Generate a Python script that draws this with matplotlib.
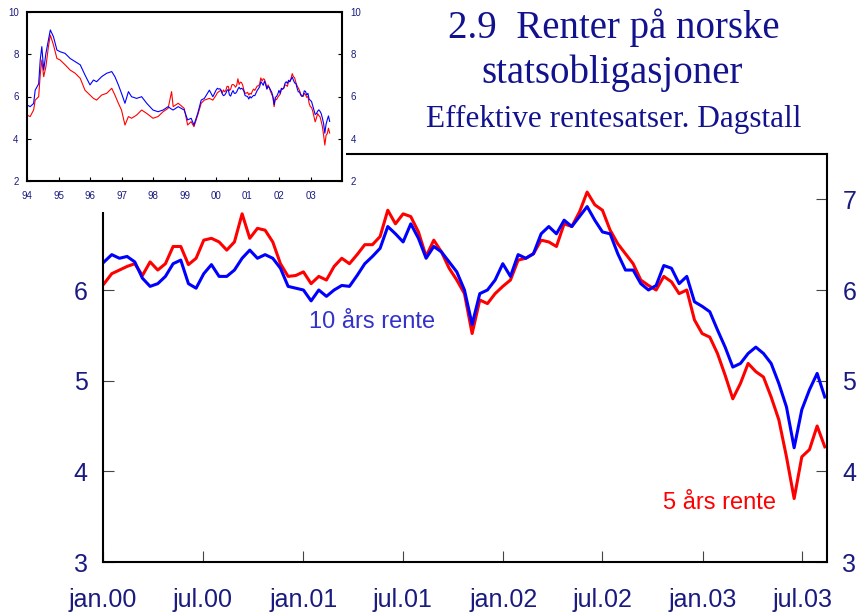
import matplotlib
matplotlib.use("Agg")
import matplotlib.pyplot as plt
from matplotlib.patches import Rectangle
import pandas as pd

plt.rcParams['font.family'] = ['Liberation Sans', 'DejaVu Sans']

# main chart: two-weekly readings, Jan 2000 - Aug 2003
dates = pd.date_range("2000-01-03", periods=95, freq="14D")

rente_10 = [6.31, 6.39, 6.35, 6.37, 6.31, 6.13, 6.04, 6.07, 6.15, 6.29,
            6.33, 6.07, 6.02, 6.18, 6.28, 6.15, 6.15, 6.22, 6.35, 6.44,
            6.35, 6.39, 6.35, 6.24, 6.04, 6.02, 6.00, 5.88, 6.00, 5.93,
            6.00, 6.05, 6.04, 6.16, 6.29, 6.37, 6.46, 6.70, 6.62, 6.53,
            6.73, 6.57, 6.35, 6.48, 6.42, 6.31, 6.20, 6.00, 5.62, 5.96,
            6.00, 6.11, 6.29, 6.15, 6.39, 6.35, 6.40, 6.62, 6.70, 6.62,
            6.77, 6.70, 6.81, 6.92, 6.77, 6.64, 6.62, 6.40, 6.22, 6.22,
            6.07, 6.00, 6.05, 6.27, 6.24, 6.07, 6.15, 5.87, 5.82, 5.76,
            5.56, 5.37, 5.15, 5.19, 5.30, 5.37, 5.30, 5.19, 4.97, 4.71,
            4.26, 4.68, 4.90, 5.08, 4.82]

rente_5 = [6.07, 6.18, 6.22, 6.26, 6.29, 6.16, 6.31, 6.22, 6.29, 6.48,
           6.48, 6.28, 6.35, 6.55, 6.57, 6.53, 6.44, 6.53, 6.84, 6.57,
           6.68, 6.66, 6.53, 6.29, 6.15, 6.16, 6.20, 6.07, 6.15, 6.11,
           6.26, 6.35, 6.29, 6.39, 6.50, 6.50, 6.59, 6.88, 6.73, 6.84,
           6.81, 6.64, 6.37, 6.55, 6.42, 6.24, 6.11, 5.96, 5.52, 5.89,
           5.85, 5.96, 6.04, 6.11, 6.33, 6.35, 6.40, 6.55, 6.53, 6.48,
           6.73, 6.70, 6.86, 7.08, 6.94, 6.88, 6.66, 6.51, 6.40, 6.29,
           6.11, 6.05, 6.00, 6.15, 6.09, 5.96, 6.00, 5.67, 5.52, 5.48,
           5.30, 5.06, 4.80, 4.97, 5.19, 5.10, 5.04, 4.82, 4.57, 4.16,
           3.70, 4.16, 4.24, 4.50, 4.27]

# inset: readings 1994-1999 (decimal years), continued with the main series
years_early = [1994.0, 1994.1, 1994.21, 1994.26, 1994.37, 1994.42, 1994.47, 1994.53,
               1994.6, 1994.68, 1994.74, 1994.84, 1994.95, 1995.05, 1995.21, 1995.37,
               1995.53, 1995.69, 1995.84, 1996.0, 1996.11, 1996.21, 1996.37, 1996.53,
               1996.69, 1996.79, 1996.9, 1997.0, 1997.11, 1997.22, 1997.32, 1997.48,
               1997.64, 1997.8, 1998.0, 1998.16, 1998.32, 1998.48, 1998.59, 1998.64,
               1998.8, 1998.99, 1999.1, 1999.21, 1999.3, 1999.42, 1999.53, 1999.63,
               1999.79, 1999.9]
rente_10_early = [5.6, 5.52, 5.67, 6.3, 6.6, 7.73, 8.36, 7.25, 8.04, 8.68,
                  9.15, 8.83, 8.2, 8.12, 8.04, 7.8, 7.65, 7.5, 7.02, 6.55,
                  6.78, 6.7, 6.94, 7.1, 7.18, 6.94, 6.55, 6.15, 5.68, 6.23,
                  5.99, 5.91, 5.99, 5.68, 5.36, 5.28, 5.36, 5.52, 5.4, 5.36,
                  5.52, 5.36, 4.89, 4.97, 4.65, 5.2, 5.83, 5.91, 6.3, 5.99]
rente_5_early = [5.12, 5.05, 5.36, 5.83, 5.99, 7.02, 7.73, 6.94, 7.41, 8.36,
                 8.91, 8.44, 7.8, 7.73, 7.5, 7.25, 7.1, 6.86, 6.3, 6.07,
                 5.91, 5.83, 6.07, 6.15, 6.39, 6.07, 5.68, 5.36, 4.65, 5.05,
                 4.97, 5.12, 5.36, 5.2, 4.97, 5.05, 5.28, 5.44, 6.23, 5.52,
                 5.68, 5.44, 4.65, 4.81, 4.57, 5.12, 5.68, 5.83, 5.91, 5.83]

xtick_dates = pd.to_datetime(["2000-01-01", "2000-07-01", "2001-01-01", "2001-07-01",
                              "2002-01-01", "2002-07-01", "2003-01-01", "2003-07-01"])
xtick_labels = ["jan.00", "jul.00", "jan.01", "jul.01",
                "jan.02", "jul.02", "jan.03", "jul.03"]
yticks = [3, 4, 5, 6, 7]
inset_years = list(range(1994, 2004))
inset_yticks = [2, 4, 6, 8, 10]

navy = '#1a1a80'
W, H = 862, 614
fig = plt.figure(figsize=(W / 100, H / 100), dpi=100)

ax = fig.add_axes([103 / W, 1 - 562 / H, 724 / W, 408 / H])
ax.set_zorder(0)
ax.plot(dates, rente_5, color='#ff0000', lw=2.2)
ax.plot(dates, rente_10, color='#0000ff', lw=2.2)
ax.set_xlim(pd.Timestamp("2000-01-01"), pd.Timestamp("2003-08-15"))
ax.set_ylim(3, 7.5)
ax.set_xticks(xtick_dates)
ax.set_xticklabels(xtick_labels)
ax.set_yticks(yticks)
ax.tick_params(axis='y', left=True, right=True, labelleft=True, labelright=True,
               direction='in', length=8, pad=11, labelsize=18, labelcolor=navy,
               color='#444444')
ax.tick_params(axis='x', direction='in', length=8, pad=19, labelsize=18,
               labelcolor=navy, color='#444444')
# the left "7" sits under the inset in the original
top_tick = ax.yaxis.get_major_ticks()[-1]
top_tick.label1.set_visible(False)
top_tick.tick1line.set_visible(False)
for s in ax.spines.values():
    s.set_linewidth(1.5)

ax.text(0.3716, 0.588, "10 års rente", transform=ax.transAxes, color='#3333cc',
        fontsize=17, ha='center', va='center')
ax.text(0.852, 0.145, "5 års rente", transform=ax.transAxes, color='#ff0000',
        fontsize=17, ha='center', va='center')

# white patch behind the inset
fig.add_artist(Rectangle((0, 1 - 212 / H), 346 / W, 212 / H, transform=fig.transFigure,
                         facecolor='white', edgecolor='none', zorder=1.5))

axi = fig.add_axes([27 / W, 1 - 181 / H, 315 / W, 169 / H])
axi.set_zorder(2)
yrs_late = [2000 + (d - pd.Timestamp("2000-01-01")).days / 365.25 for d in dates]
axi.plot(years_early + yrs_late, rente_5_early + rente_5, color='#ff0000', lw=0.8)
axi.plot(years_early + yrs_late, rente_10_early + rente_10, color='#0000ff', lw=0.8)
axi.set_xlim(1994, 2004)
axi.set_ylim(2, 10)
axi.set_xticks(inset_years)
axi.set_xticklabels([f"{y % 100:02d}" for y in inset_years])
axi.set_yticks(inset_yticks)
axi.tick_params(axis='y', left=True, right=True, labelleft=True, labelright=True,
                direction='in', length=3, pad=6, labelsize=7, labelcolor=navy)
axi.tick_params(axis='x', direction='in', length=3, pad=7, labelsize=7, labelcolor=navy)
for s in axi.spines.values():
    s.set_linewidth(1.5)

serif = ['Liberation Serif', 'DejaVu Serif']
tcol = '#12128f'
fig.text(614 / W, 1 - 38 / H, "2.9  Renter på norske", family=serif, fontsize=28,
         color=tcol, ha='center', va='baseline')
fig.text(612 / W, 1 - 83 / H, "statsobligasjoner", family=serif, fontsize=28,
         color=tcol, ha='center', va='baseline')
fig.text(614 / W, 1 - 127 / H, "Effektive rentesatser. Dagstall", family=serif,
         fontsize=22.5, color=tcol, ha='center', va='baseline')

fig.savefig("out.png", dpi=100)
